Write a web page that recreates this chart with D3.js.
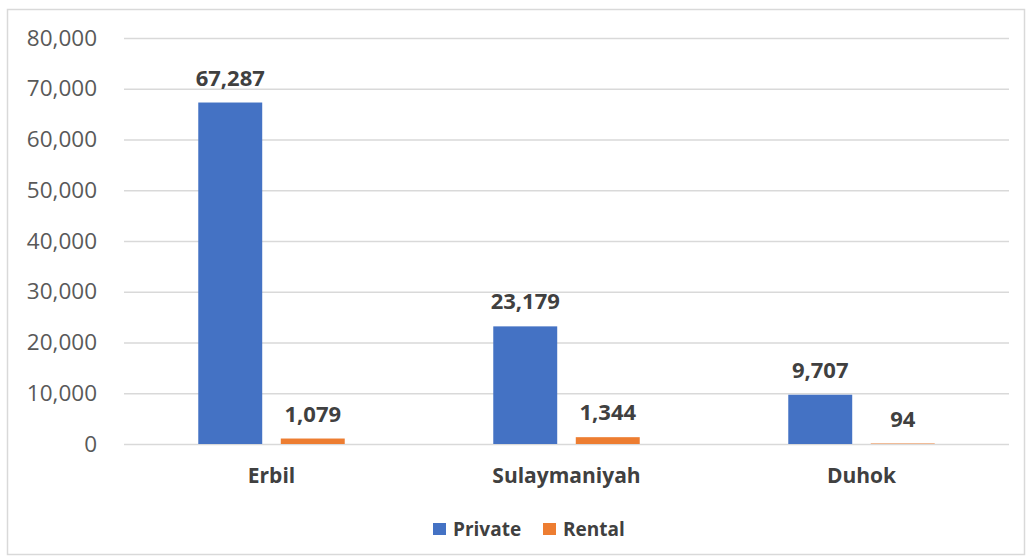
<!DOCTYPE html>
<html>
<head>
<meta charset="utf-8">
<script src="https://cdn.jsdelivr.net/npm/d3@7.9.0/dist/d3.min.js"></script>
<style>
  html, body { margin: 0; padding: 0; background: #fff; }
  svg { display: block; font-family: "Open Sans", "Noto Sans", sans-serif; }
</style>
</head>
<body>
<svg id="chart" width="1031" height="558"></svg>
<script>
// chart data
const regions = ['Erbil', 'Sulaymaniyah', 'Duhok'];
const seriesNames = ['Private', 'Rental'];
const privateValues = [67287, 23179, 9707];
const rentalValues = [1079, 1344, 94];
const yTicks = [0, 10000, 20000, 30000, 40000, 50000, 60000, 70000, 80000];
const colors = ['#4472c4', '#ed7d31'];

const width = 1031;
const height = 558;
const margin = { top: 38, right: 22, bottom: 114, left: 124 };

const svg = d3.select('#chart');

// outer frame
svg.append('rect')
  .attr('x', 7.5).attr('y', 9.5)
  .attr('width', width - 14).attr('height', height - 13)
  .attr('fill', '#fff')
  .attr('stroke', '#d9d9d9')
  .attr('stroke-width', 1.5);

const x0 = d3.scaleBand()
  .domain(regions)
  .range([margin.left, width - margin.right]);

const x1 = d3.scaleBand()
  .domain(seriesNames)
  .range([0, x0.bandwidth()])
  .paddingInner(0.225)
  .paddingOuter(0.9);

const y = d3.scaleLinear()
  .domain([0, 80000])
  .range([height - margin.bottom, margin.top]);

// gridlines
const grid = svg.append('g')
  .attr('transform', `translate(${margin.left},0)`)
  .call(d3.axisLeft(y).tickValues(yTicks).tickSize(-(width - margin.left - margin.right)).tickFormat(''));
grid.select('.domain').remove();
grid.selectAll('line').attr('stroke', '#d9d9d9').attr('stroke-width', 1.5);

// y axis labels
const yAxis = svg.append('g')
  .attr('transform', `translate(${margin.left - 24},0)`)
  .call(d3.axisLeft(y).tickValues(yTicks).tickSize(0).tickFormat(d3.format(',')));
yAxis.select('.domain').remove();
yAxis.selectAll('text')
  .attr('font-size', 22.5)
  .attr('font-family', '"Open Sans", sans-serif')
  .attr('fill', '#595959');

const rows = regions.map((r, i) => ({
  region: r,
  values: [
    { key: 'Private', value: privateValues[i], color: colors[0] },
    { key: 'Rental', value: rentalValues[i], color: colors[1] }
  ]
}));

const groups = svg.append('g').selectAll('g')
  .data(rows)
  .join('g')
  .attr('transform', (d) => `translate(${x0(d.region)},0)`);

groups.selectAll('rect')
  .data((d) => d.values)
  .join('rect')
  .attr('x', (d) => x1(d.key))
  .attr('y', (d) => y(d.value))
  .attr('width', x1.bandwidth())
  .attr('height', (d) => y(0) - y(d.value))
  .attr('fill', (d) => d.color);

// data labels
groups.selectAll('text')
  .data((d) => d.values)
  .join('text')
  .attr('x', (d) => x1(d.key) + x1.bandwidth() / 2)
  .attr('y', (d) => y(d.value) - 17)
  .attr('text-anchor', 'middle')
  .attr('font-size', 22)
  .attr('font-weight', 'bold')
  .attr('fill', '#404040')
  .text((d) => d3.format(',')(d.value));

// category labels
svg.append('g').selectAll('text')
  .data(regions)
  .join('text')
  .attr('x', (d) => x0(d) + x0.bandwidth() / 2)
  .attr('y', y(0) + 39)
  .attr('text-anchor', 'middle')
  .attr('font-size', 21)
  .attr('font-weight', 'bold')
  .attr('fill', '#404040')
  .text((d) => d);

// legend
const legendX = [433, 543];
const legend = svg.append('g').selectAll('g')
  .data(seriesNames)
  .join('g')
  .attr('transform', (d, i) => `translate(${legendX[i]},523)`);
legend.append('rect')
  .attr('width', 13).attr('height', 12)
  .attr('fill', (d, i) => colors[i]);
legend.append('text')
  .attr('x', 20).attr('y', 12.5)
  .attr('font-size', 19)
  .attr('font-weight', 'bold')
  .attr('fill', '#404040')
  .text((d) => d);
</script>
</body>
</html>
